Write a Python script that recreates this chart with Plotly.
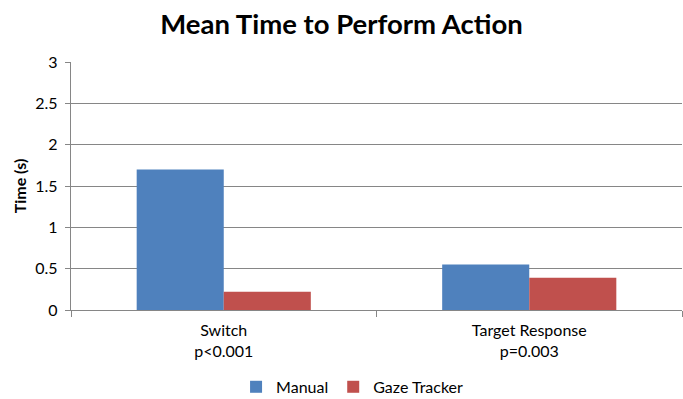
import plotly.graph_objects as go

categories = ["Switch<br>p&lt;0.001", "Target Response<br>p=0.003"]
manual = [1.70, 0.55]
gaze = [0.22, 0.39]
y_ticks = [0, 0.5, 1, 1.5, 2, 2.5, 3]
y_tick_labels = ["0", "0.5", "1", "1.5", "2", "2.5", "3"]

FONT = "Lato, Open Sans, sans-serif"

fig = go.Figure()
fig.add_trace(go.Bar(name="Manual", x=categories, y=manual, marker=dict(color="#4F81BD", line=dict(width=0))))
fig.add_trace(go.Bar(name="Gaze Tracker", x=categories, y=gaze, marker=dict(color="#C0504D", line=dict(width=0))))

fig.update_layout(
    width=683, height=399,
    margin=dict(l=71, r=1, t=62, b=89, autoexpand=False),
    paper_bgcolor="white", plot_bgcolor="white",
    barmode="group", bargap=0.43, bargroupgap=0,
    font=dict(family=FONT, size=16, color="#000000"),
    title=dict(text="<b>Mean Time to Perform Action</b>", x=0.5, xanchor="center",
               y=0.962, yanchor="top", font=dict(size=27.5, family=FONT, color="#000000")),
    showlegend=True,
    legend=dict(orientation="h", x=0.46, xref="paper", xanchor="center", y=-0.31, yanchor="middle",
                font=dict(size=16, family=FONT), itemwidth=30, traceorder="normal"),
    xaxis=dict(showline=True, linecolor="#868686", linewidth=1.3, ticks="outside", ticklen=6,
               tickcolor="#868686", tickson="boundaries", showgrid=False,
               tickfont=dict(size=16, family=FONT), ticklabelstandoff=6),
    yaxis=dict(range=[0, 3], tickvals=y_ticks, ticktext=y_tick_labels, showline=True,
               linecolor="#868686", linewidth=1.3, ticks="outside", ticklen=5, tickcolor="#868686",
               showgrid=True, gridcolor="#868686", gridwidth=1.3, zeroline=False,
               tickfont=dict(size=16, family=FONT), ticklabelstandoff=4,
               title=dict(text="<b>Time (s)</b>", font=dict(size=16, family=FONT), standoff=4)),
)

fig.write_html("out.html", config={"displayModeBar": False},
               post_script="document.body.style.margin='0';")
